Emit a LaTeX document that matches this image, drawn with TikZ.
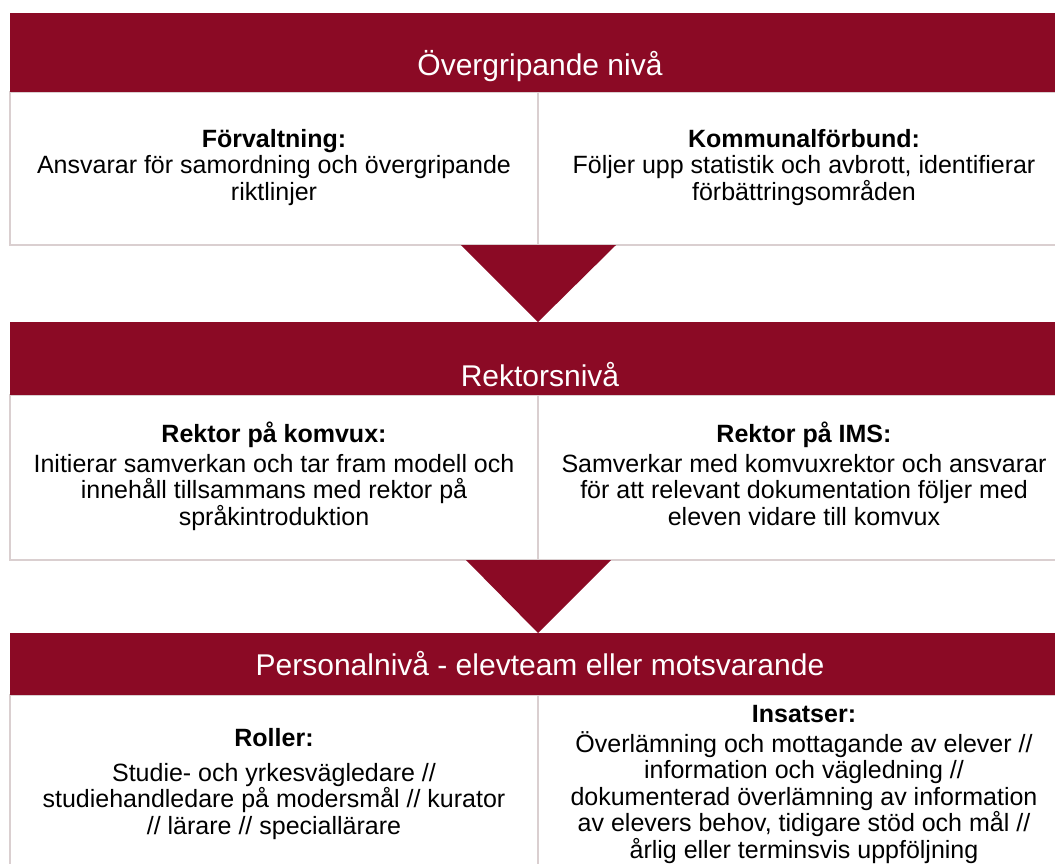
\documentclass[tikz,border=0pt]{standalone}
\usepackage{fontspec}
\setmainfont{Liberation Sans}
\usetikzlibrary{calc}
\definecolor{wine}{RGB}{139,10,37}
\definecolor{edge}{RGB}{218,207,208}

\begin{document}
\begin{tikzpicture}[x=1pt,y=-1pt,outer sep=0pt,
  font=\fontsize{25}{26.5}\selectfont,
  band/.style={fill=wine,minimum width=1060pt,inner sep=0pt},
  head/.style={text=white,anchor=base,font=\fontsize{30}{32}\selectfont},
  box/.style={draw=edge,line width=2pt,fill=white,align=center,inner sep=0pt}]

\clip (0,0) rectangle (1055,863);

% boxes
\node[box,minimum width=528pt,minimum height=153pt] (b1l) at (274,168.5)
  {\strut\textbf{Förvaltning:}\\Ansvarar för samordning och övergripande\\riktlinjer\strut};
\node[box,minimum width=532pt,minimum height=153pt] (b1r) at (804,168.5)
  {\strut\textbf{Kommunalförbund:}\\Följer upp statistik och avbrott, identifierar\\förbättringsområden\strut};
\node[box,minimum width=528pt,minimum height=165pt] (b2l) at (274,477.5)
  {\strut\textbf{Rektor på komvux:}\\[3.5pt]Initierar samverkan och tar fram modell och\\innehåll tillsammans med rektor på\\språkintroduktion\strut};
\node[box,minimum width=532pt,minimum height=165pt] (b2r) at (804,477.5)
  {\strut\textbf{Rektor på IMS:}\\[3.5pt]Samverkar med komvuxrektor och ansvarar\\för att relevant dokumentation följer med\\eleven vidare till komvux\strut};
\node[box,minimum width=528pt,minimum height=180pt] (b3l) at (274,785)
  {\strut\textbf{Roller:}\\[8.5pt]Studie- och yrkesvägledare //\\studiehandledare på modersmål // kurator\\// lärare // speciallärare\strut};
\node[box,minimum width=532pt,minimum height=180pt] (b3r) at (804,785)
  {\strut\textbf{Insatser:}\\Överlämning och mottagande av elever //\\information och vägledning //\\dokumenterad överlämning av information\\av elevers behov, tidigare stöd och mål //\\årlig eller terminsvis uppföljning\strut};

% bands
\node[band,minimum height=79pt] (n1) at (540,52.5) {};
\node[band,minimum height=73pt] (n2) at (540,358.5) {};
\node[band,minimum height=62pt] (n3) at (540,664) {};
\node[head] (t1) at (540,75) {Övergripande nivå};
\node[head] (t2) at (540,386) {Rektorsnivå};
\node[head] (t3) at (540,675) {Personalnivå - elevteam eller motsvarande};

% arrows
\fill[wine] ($(b1l.south east)+(-77,0)$) -- ($(b1l.south east)+(78,0)$)
  -- (b1l.south east |- n2.north) -- cycle;
\fill[wine] ($(b2l.south east)+(-72,0)$) -- ($(b2l.south east)+(73,0)$)
  -- (b2l.south east |- n3.north) -- cycle;

\end{tikzpicture}
\end{document}
